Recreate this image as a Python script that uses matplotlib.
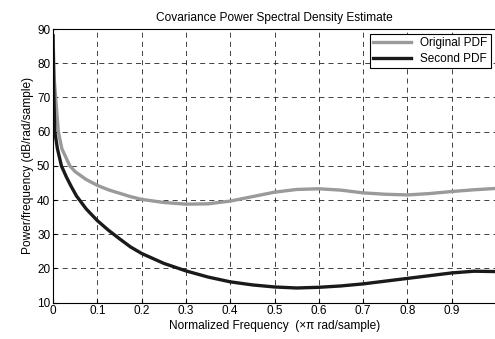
import numpy as np
import matplotlib.pyplot as plt

plt.rcParams["font.family"] = ["Liberation Sans", "DejaVu Sans"]

# Values (normalized frequency, dB/rad/sample)
freq_orig = [0, 0.003, 0.006, 0.012, 0.02, 0.038, 0.05, 0.075, 0.1, 0.125,
             0.15, 0.175, 0.2, 0.25, 0.3, 0.35, 0.4, 0.45, 0.5, 0.55, 0.6,
             0.65, 0.7, 0.75, 0.8, 0.85, 0.9, 0.95, 1.0]
original_pdf = [88, 75, 70, 60, 55, 50, 48.3, 46, 44.3, 43, 42, 41, 40.2,
                39.3, 38.8, 38.9, 39.7, 41, 42.3, 43.1, 43.3, 42.9, 42.1,
                41.7, 41.5, 41.9, 42.5, 43, 43.4]

freq_second = [0, 0.002, 0.004, 0.01, 0.019, 0.03, 0.041, 0.053, 0.075, 0.1,
               0.125, 0.15, 0.175, 0.2, 0.25, 0.3, 0.35, 0.4, 0.45, 0.5, 0.55,
               0.6, 0.65, 0.7, 0.75, 0.8, 0.85, 0.9, 0.95, 1.0]
second_pdf = [88, 70, 60, 55, 50, 46.8, 44, 41.2, 37.4, 34, 31.2, 28.7,
              26.3, 24.4, 21.5, 19.3, 17.5, 16.1, 15.2, 14.6, 14.3, 14.5,
              14.9, 15.5, 16.3, 17.1, 17.9, 18.7, 19.2, 19.1]

xticks = [0, 0.1, 0.2, 0.3, 0.4, 0.5, 0.6, 0.7, 0.8, 0.9]
xticklabels = ["0", "0.1", "0.2", "0.3", "0.4", "0.5", "0.6", "0.7", "0.8", "0.9"]
yticks = [10, 20, 30, 40, 50, 60, 70, 80, 90]

fig = plt.figure(figsize=(4.95, 3.39), dpi=100)
# right edge of the axes sits just past the image edge, like the reference
ax = fig.add_axes([53 / 495, 36.3 / 339, 443 / 495, 273.7 / 339])

ax.plot(freq_orig, original_pdf, color="#9a9a9a", lw=2.4, label="Original PDF")
ax.plot(freq_second, second_pdf, color="#1a1a1a", lw=2.4, label="Second PDF")

ax.set_xlim(0, 1)
ax.set_ylim(10, 90)
ax.set_xticks(xticks)
ax.set_xticklabels(xticklabels)
ax.set_yticks(yticks)
ax.tick_params(direction="in", labelsize=8.5, length=3, pad=2)
ax.grid(True, color="#222222", linestyle=(0, (6, 5)), lw=0.6)

ax.set_title("Covariance Power Spectral Density Estimate", fontsize=8.6, pad=6)
ax.set_xlabel("Normalized Frequency  (\u00d7\u03c0 rad/sample)", fontsize=8.6, labelpad=2)
ax.set_ylabel("Power/frequency (dB/rad/sample)", fontsize=8.6, labelpad=2)

leg = ax.legend(loc="upper right", fontsize=8.5, fancybox=False, framealpha=1,
                edgecolor="black", handlelength=3.2, borderaxespad=0.4,
                borderpad=0.3, labelspacing=0.3)
leg.get_frame().set_linewidth(0.8)

plt.savefig("out.png", dpi=100)
